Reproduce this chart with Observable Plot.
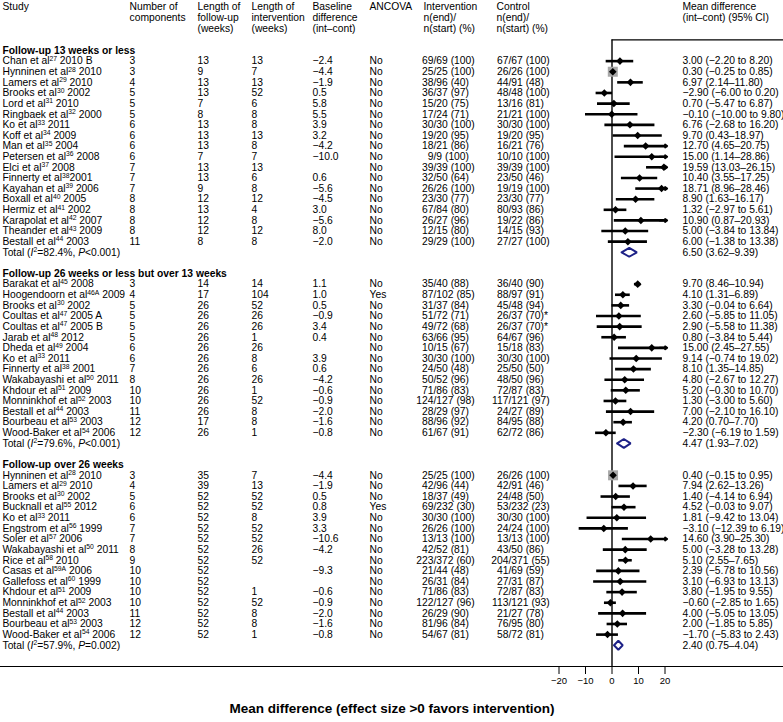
<!DOCTYPE html>
<html><head><meta charset="utf-8">
<script src="https://cdn.jsdelivr.net/npm/d3@7"></script>
<script src="https://cdn.jsdelivr.net/npm/@observablehq/plot@0.6"></script>
<style>body{margin:0;background:#fff}</style>
</head><body><div id="chart"></div>
<script>
// ---------- DATA ----------
const groupTitles = ["Follow-up 13 weeks or less", "Follow-up 26 weeks or less but over 13 weeks", "Follow-up over 26 weeks"];
const groupSizes = [18, 15, 16];
const totalLabels = ["Total (_I_^2^=82.4%, _P_<0.001)", "Total (_I_^2^=79.6%, _P_<0.001)", "Total (_I_^2^=57.9%, _P_=0.002)"];
const totalEst = [6.50, 4.47, 2.40];
const totalLo = [3.62, 1.93, 0.75];
const totalHi = [9.39, 7.02, 4.04];

const studies = [
  "Chan et al^27^ 2010 B","Hynninen et al^28^ 2010","Lamers et al^29^ 2010","Brooks et al^30^ 2002","Lord et al^31^ 2010","Ringbaek et al^32^ 2000","Ko et al^33^ 2011","Koff et al^34^ 2009","Man et al^35^ 2004","Petersen et al^36^ 2008","Elci et al^37^ 2008","Finnerty et al^38^2001","Kayahan et al^39^ 2006","Boxall et al^40^ 2005","Hermiz et al^41^ 2002","Karapolat et al^42^ 2007","Theander et al^43^ 2009","Bestall et al^44^ 2003",
  "Barakat et al^45^ 2008","Hoogendoorn et al^46A^ 2009","Brooks et al^30^ 2002","Coultas et al^47^ 2005 A","Coultas et al^47^ 2005 B","Jarab et al^48^ 2012","Dheda et al^49^ 2004","Ko et al^33^ 2011","Finnerty et al^38^ 2001","Wakabayashi et al^50^ 2011","Khdour et al^51^ 2009","Monninkhof et al^52^ 2003","Bestall et al^44^ 2003","Bourbeau et al^53^ 2003","Wood-Baker et al^54^ 2006",
  "Hynninen et al^28^ 2010","Lamers et al^29^ 2010","Brooks et al^30^ 2002","Bucknall et al^55^ 2012","Ko et al^33^ 2011","Engstrom et al^56^ 1999","Soler et al^57^ 2006","Wakabayashi et al^50^ 2011","Rice et al^58^ 2010","Casas et al^59A^ 2006","Gallefoss et al^60^ 1999","Khdour et al^51^ 2009","Monninkhof et al^52^ 2003","Bestall et al^44^ 2003","Bourbeau et al^53^ 2003","Wood-Baker et al^54^ 2006"
];
const components = [3,3,4,5,5,5,6,6,6,6,7,7,7,8,8,8,8,11, 3,4,5,5,5,5,6,6,7,8,10,10,11,12,12, 3,4,5,6,6,7,7,8,9,10,10,10,10,11,12,12];
const followUp = [13,9,13,13,7,8,13,13,13,7,13,13,9,12,13,12,12,8, 14,17,26,26,26,26,26,26,26,26,26,26,26,17,26, 35,39,52,52,52,52,52,52,52,52,52,52,52,52,52,52];
const interventionLength = [13,7,13,52,6,8,8,13,8,7,13,6,8,12,4,8,12,8, 14,104,52,26,26,1,26,8,6,26,1,52,8,8,1, 7,13,52,52,8,52,52,26,52,null,null,1,52,8,8,1];
const baselineDiff = [-2.4,-4.4,-1.9,0.5,5.8,5.5,3.9,3.2,-4.2,-10.0,null,0.6,-5.6,-4.5,3.0,-5.6,8.0,-2.0, 1.1,1.0,0.5,-0.9,3.4,0.4,null,3.9,0.6,-4.2,-0.6,-0.9,-2.0,-1.6,-0.8, -4.4,-1.9,0.5,0.8,3.9,3.3,-10.6,-4.2,null,-9.3,null,-0.6,-0.9,-2.0,-1.6,-0.8];
const ancova = ["No","No","No","No","No","No","No","No","No","No","No","No","No","No","No","No","No","No", "No","Yes","No","No","No","No","No","No","No","No","No","No","No","No","No", "No","No","No","Yes","No","No","No","No","No","No","No","No","No","No","No","No"];
const interventionN = ["69/69 (100)","25/25 (100)","38/96 (40)","36/37 (97)","15/20 (75)","17/24 (71)","30/30 (100)","19/20 (95)","18/21 (86)","9/9 (100)","39/39 (100)","32/50 (64)","26/26 (100)","23/30 (77)","67/84 (80)","26/27 (96)","12/15 (80)","29/29 (100)",
  "35/40 (88)","87/102 (85)","31/37 (84)","51/72 (71)","49/72 (68)","63/66 (95)","10/15 (67)","30/30 (100)","24/50 (48)","50/52 (96)","71/86 (83)","124/127 (98)","28/29 (97)","88/96 (92)","61/67 (91)",
  "25/25 (100)","42/96 (44)","18/37 (49)","69/232 (30)","30/30 (100)","26/26 (100)","13/13 (100)","42/52 (81)","223/372 (60)","21/44 (48)","26/31 (84)","71/86 (83)","122/127 (96)","26/29 (90)","81/96 (84)","54/67 (81)"];
const controlN = ["67/67 (100)","26/26 (100)","44/91 (48)","48/48 (100)","13/16 (81)","21/21 (100)","30/30 (100)","19/20 (95)","16/21 (76)","10/10 (100)","39/39 (100)","23/50 (46)","19/19 (100)","23/30 (77)","80/93 (86)","19/22 (86)","14/15 (93)","27/27 (100)",
  "36/40 (90)","88/97 (91)","45/48 (94)","26/37 (70)*","26/37 (70)*","64/67 (96)","15/18 (83)","30/30 (100)","25/50 (50)","48/50 (96)","72/87 (83)","117/121 (97)","24/27 (89)","84/95 (88)","62/72 (86)",
  "26/26 (100)","42/91 (46)","24/48 (50)","53/232 (23)","30/30 (100)","24/24 (100)","13/13 (100)","43/50 (86)","204/371 (55)","41/69 (59)","27/31 (87)","72/87 (83)","113/121 (93)","21/27 (78)","76/95 (80)","58/72 (81)"];
const meanDiff = [3.00,0.30,6.97,-2.90,0.70,-0.10,6.76,9.70,12.70,15.00,19.59,10.40,18.71,8.90,1.32,10.90,5.00,6.00,
  9.70,4.10,3.30,2.60,2.90,0.80,15.00,9.14,8.10,4.80,5.20,1.30,7.00,4.20,-2.30,
  0.40,7.94,1.40,4.52,1.81,-3.10,14.60,5.00,5.10,2.39,3.10,3.80,-0.60,4.00,2.00,-1.70];
const ciLow = [-2.20,-0.25,2.14,-6.00,-5.47,-10.00,-2.68,0.43,4.65,1.14,13.03,3.55,8.96,1.63,-2.97,0.87,-3.84,-1.38,
  8.46,1.31,-0.04,-5.85,-5.58,-3.84,2.45,-0.74,1.35,-2.67,-0.30,-3.00,-2.10,0.70,-6.19,
  -0.15,2.62,-4.14,-0.03,-9.42,-12.39,3.90,-3.28,2.55,-5.78,-6.93,-1.95,-2.85,-5.05,-1.85,-5.83];
const ciHigh = [8.20,0.85,11.80,0.20,6.87,9.80,16.20,18.97,20.75,28.86,26.15,17.25,28.46,16.17,5.61,20.93,13.84,13.38,
  10.94,6.89,6.64,11.05,11.38,5.44,27.55,19.02,14.85,12.27,10.70,5.60,16.10,7.70,1.59,
  0.95,13.26,6.94,9.07,13.04,6.19,25.30,13.28,7.65,10.56,13.13,9.55,1.65,13.05,5.85,2.43];
const xTicks = [-20, -10, 0, 10, 20];
const columnHeaders = ["Study","Number of\ncomponents","Length of\nfollow-up\n(weeks)","Length of\nintervention\n(weeks)","Baseline\ndifference\n(int–cont)","ANCOVA","Intervention\nn(end)/\nn(start) (%)","Control\nn(end)/\nn(start) (%)","Mean difference\n(int–cont) (95% CI)"];
const axisTitle = "Mean difference (effect size >0 favors intervention)";

// ---------- LAYOUT ----------
const W = 783, H = 722;
const zeroPx = 611.5, pxPerUnit = 2.65, clipHi = 20;
const xDomain = [-zeroPx / pxPerUnit, (W - zeroPx) / pxPerUnit];
const rowTop = 50, rowStep = 10.62;
const colX = [2, 129, 197, 251, 312, 369, 423, 496, 682];
const intSlash = 433, ctlSlash = 508;
const FS = 10.3;
const FONT = "'Liberation Sans',Arial,Helvetica,sans-serif";

const minus = v => (v < 0 ? "\u2212" : "") + Math.abs(v).toFixed(2);
const ciText = (e, l, h) => `${minus(e)} (${minus(l)}${l < 0 ? " to " : "\u2013"}${minus(h)})`;
const base1 = v => v == null ? "" : (v < 0 ? "\u2212" : "") + Math.abs(v).toFixed(1);

// build rows
const headerRows = [], studyRows = [], totalRows = [];
let r = 0, k = 0;
groupSizes.forEach((n, g) => {
  headerRows.push({row: r, text: groupTitles[g]}); r++;
  for (let j = 0; j < n; j++, k++, r++) {
    const iN = interventionN[k], cN = controlN[k];
    studyRows.push({
      row: r, label: studies[k], comp: String(components[k]), fu: String(followUp[k]),
      len: interventionLength[k] == null ? "" : String(interventionLength[k]),
      base: base1(baselineDiff[k]), anc: ancova[k],
      iNum: iN.slice(0, iN.indexOf("/")), iRest: iN.slice(iN.indexOf("/")),
      cNum: cN.slice(0, cN.indexOf("/")), cRest: cN.slice(cN.indexOf("/")),
      est: meanDiff[k], lo: ciLow[k], hi: ciHigh[k], ci: ciText(meanDiff[k], ciLow[k], ciHigh[k]),
      se: (ciHigh[k] - ciLow[k]) / (2 * 1.96)
    });
  }
  totalRows.push({row: r, label: totalLabels[g], est: totalEst[g], lo: totalLo[g], hi: totalHi[g], ci: ciText(totalEst[g], totalLo[g], totalHi[g])});
  r += 2;
});
const minSE = d3.min(studyRows, d => d.se);
studyRows.forEach(d => { d.box = 10 * minSE / d.se / Math.sqrt(Math.PI); });

const diamondPts = totalRows.flatMap(t => [[t.lo, t.row], [t.est, t.row - 0.42], [t.hi, t.row], [t.est, t.row + 0.42], [t.lo, t.row]]
  .map(([x, y]) => ({x, y, g: t.row})));

const tb = {frameAnchor: "left", y: "row", textAnchor: "start", fontSize: FS};

const chart = Plot.plot({
  width: W, height: H,
  marginLeft: 0, marginRight: 0, marginTop: rowTop - rowStep, marginBottom: 56,
  style: {fontFamily: FONT, background: "#fff", color: "#000"},
  x: {domain: xDomain, axis: null},
  y: {domain: [0, 56], range: [rowTop, rowTop + 56 * rowStep], axis: null},
  r: {type: "identity"},
  marks: [
    Plot.frame({anchor: "bottom", strokeWidth: 1.2}),
    Plot.ruleY([-1], {x1: 0, x2: xDomain[1], strokeWidth: 1.2}),
    Plot.ruleX([0], {strokeWidth: 1.4}),
    Plot.axisX({ticks: xTicks, tickSize: 8, tickPadding: 3, fontSize: 9.5, label: null}),
    Plot.text([axisTitle], {frameAnchor: "bottom", dy: 46, fontWeight: "bold", fontSize: 13.5}),
    ...columnHeaders.map((h, i) => Plot.text([h], {frameAnchor: "top-left", dx: colX[i], dy: -(rowTop - rowStep) + 1, lineAnchor: "top", lineHeight: 1.1, textAnchor: "start", fontSize: FS})),
    Plot.text(headerRows, {...tb, text: "text", dx: colX[0], fontWeight: "bold"}),
    Plot.text(studyRows, {...tb, text: "label", dx: colX[0]}),
    Plot.text(studyRows, {...tb, text: "comp", dx: colX[1]}),
    Plot.text(studyRows, {...tb, text: "fu", dx: colX[2]}),
    Plot.text(studyRows, {...tb, text: "len", dx: colX[3]}),
    Plot.text(studyRows, {...tb, text: "base", dx: colX[4]}),
    Plot.text(studyRows, {...tb, text: "anc", dx: colX[5]}),
    Plot.text(studyRows, {...tb, text: "iNum", dx: intSlash, textAnchor: "end"}),
    Plot.text(studyRows, {...tb, text: "iRest", dx: intSlash}),
    Plot.text(studyRows, {...tb, text: "cNum", dx: ctlSlash, textAnchor: "end"}),
    Plot.text(studyRows, {...tb, text: "cRest", dx: ctlSlash}),
    Plot.text(studyRows, {...tb, text: "ci", dx: colX[8]}),
    Plot.text(totalRows, {...tb, text: "label", dx: colX[0]}),
    Plot.text(totalRows, {...tb, text: "ci", dx: colX[8]}),
    // forest
    Plot.dot(studyRows, {x: "est", y: "row", r: "box", symbol: "square", fill: "#a8a8a8"}),
    Plot.ruleY(studyRows, {y: "row", x1: "lo", x2: d => Math.min(d.hi, clipHi), strokeWidth: 2.6}),
    Plot.arrow(studyRows.filter(d => d.hi > clipHi), {x1: clipHi - 2, x2: clipHi + 0.8, y1: "row", y2: "row", headLength: 6, strokeWidth: 2, headAngle: 70}),
    Plot.dot(studyRows, {x: "est", y: "row", r: 3.4, symbol: "diamond2", fill: "#000"}),
    Plot.line(diamondPts, {x: "x", y: "y", z: "g", stroke: "#1d2187", strokeWidth: 2, strokeLinejoin: "miter"})
  ]
});

// rich text: ^sup^ and _italic_
const NS = "http://www.w3.org/2000/svg";
chart.querySelectorAll("text").forEach(t => {
  if (t.querySelector("tspan")) return;
  const s = t.textContent;
  if (!/[\^_]/.test(s)) return;
  t.textContent = "";
  let shifted = false;
  for (const p of s.split(/(\^[^^]*\^|_[^_]*_)/)) {
    if (!p) continue;
    const ts = document.createElementNS(NS, "tspan");
    if (p[0] === "^") {
      ts.textContent = p.slice(1, -1);
      ts.setAttribute("font-size", "66%");
      ts.setAttribute("dy", "-3.5");
      shifted = true;
    } else {
      if (p[0] === "_") { ts.textContent = p.slice(1, -1); ts.setAttribute("font-style", "italic"); }
      else ts.textContent = p;
      if (shifted) { ts.setAttribute("dy", "3.5"); shifted = false; }
    }
    t.appendChild(ts);
  }
});
document.getElementById("chart").appendChild(chart);
</script>
</body></html>
